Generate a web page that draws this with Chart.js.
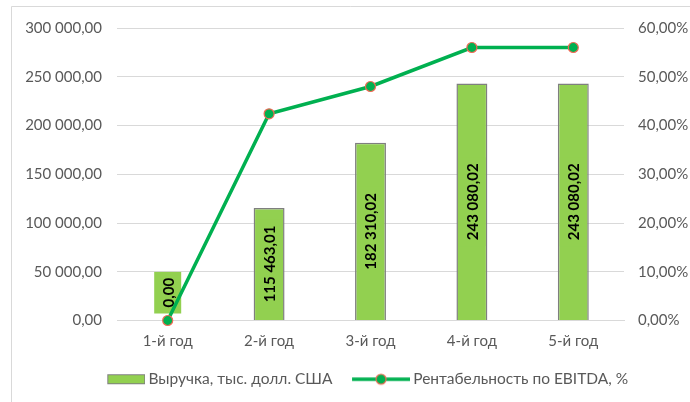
<!DOCTYPE html>
<html>
<head>
<meta charset="utf-8">
<script src="https://cdn.jsdelivr.net/npm/chart.js@4.4.1/dist/chart.umd.min.js"></script>
<style>
  html, body { margin: 0; padding: 0; background: #fff; }
</style>
</head>
<body>
<canvas id="myChart" width="690" height="402"></canvas>
<script>
const years = ['1-й год', '2-й год', '3-й год', '4-й год', '5-й год'];
const revenue = [0, 115463.01, 182310.02, 243080.02, 243080.02];
const margin = [0, 42.4, 48, 56, 56];
const revenueLabel = 'Выручка, тыс. долл. США';
const marginLabel = 'Рентабельность по EBITDA, %';

const FONT = 'Lato';
const GREY = '#595959';
const BAR_GREEN = '#92d050';
const LINE_GREEN = '#00b050';
const DOT_EDGE = '#ee6a55';

// 115463.01 -> "115 463,01"
function fmt(v) {
  const parts = v.toFixed(2).split('.');
  return parts[0].replace(/\B(?=(\d{3})+(?!\d))/g, ' ') + ',' + parts[1];
}
function pct(v) {
  return v.toFixed(2).replace('.', ',') + '%';
}

// legend icons drawn on small canvases
function legendIcon(kind) {
  const c = document.createElement('canvas');
  c.width = 66; c.height = 14;
  const g = c.getContext('2d');
  if (kind === 'bar') {
    g.fillStyle = BAR_GREEN;
    g.fillRect(28.5, 2.5, 37, 9);
    g.strokeStyle = '#7f7f7f';
    g.lineWidth = 1;
    g.strokeRect(28.5, 2.5, 37, 9);
  } else {
    g.strokeStyle = LINE_GREEN;
    g.lineWidth = 3.5;
    g.beginPath(); g.moveTo(8, 7); g.lineTo(66, 7); g.stroke();
    g.beginPath(); g.arc(37, 7, 5, 0, Math.PI * 2);
    g.fillStyle = LINE_GREEN; g.fill();
    g.strokeStyle = DOT_EDGE; g.lineWidth = 1.2; g.stroke();
  }
  return c;
}

const frame = {
  id: 'frame',
  beforeDraw(chart) {
    const ctx = chart.ctx;
    ctx.save();
    ctx.fillStyle = '#fff';
    ctx.fillRect(0, 0, chart.width, chart.height);
    ctx.strokeStyle = '#d9d9d9';
    ctx.lineWidth = 1;
    ctx.beginPath();
    ctx.moveTo(11.5, chart.height);
    ctx.lineTo(11.5, 6.5);
    ctx.lineTo(chart.width, 6.5);
    ctx.stroke();
    ctx.restore();
  }
};

// legend sits a little right of centre
const legendShift = {
  id: 'legendShift',
  afterLayout(chart) {
    chart.legend.left += 22;
  }
};

// vertical value labels on the revenue bars
const barLabels = {
  id: 'barLabels',
  afterDatasetDraw(chart, args) {
    if (args.index !== 0) return;
    const ctx = chart.ctx;
    ctx.save();
    ctx.font = 'bold 15px ' + FONT;
    ctx.textAlign = 'center';
    ctx.textBaseline = 'middle';
    args.meta.data.forEach((bar, i) => {
      const text = fmt(revenue[i]);
      const boxH = ctx.measureText(text).width + 12;
      const boxW = 27;
      let cy = (bar.y + bar.base) / 2;
      cy = Math.min(cy, bar.base - 7 - boxH / 2);
      ctx.fillStyle = BAR_GREEN;
      ctx.fillRect(bar.x - boxW / 2, cy - boxH / 2, boxW, boxH);
      ctx.save();
      ctx.translate(bar.x + 1, cy);
      ctx.rotate(-Math.PI / 2);
      ctx.fillStyle = '#000';
      ctx.fillText(text, 0, 0);
      ctx.restore();
    });
    ctx.restore();
  }
};

const ctx = document.getElementById('myChart');

new Chart(ctx, {
  type: 'bar',
  data: {
    labels: years,
    datasets: [{
      label: revenueLabel,
      data: revenue,
      backgroundColor: BAR_GREEN,
      borderColor: '#7f7f7f',
      borderWidth: 1.5,
      barPercentage: 0.305,
      categoryPercentage: 1,
      yAxisID: 'y',
      order: 1
    },
    {
      type: 'line',
      label: marginLabel,
      data: margin,
      borderColor: LINE_GREEN,
      borderWidth: 3.5,
      pointRadius: 5,
      pointBackgroundColor: LINE_GREEN,
      pointBorderColor: DOT_EDGE,
      pointBorderWidth: 1.2,
      tension: 0,
      clip: false,
      yAxisID: 'y1',
      order: 0
    }]
  },
  options: {
    responsive: false,
    animation: false,
    layout: { padding: { top: 28, left: 0, right: 0, bottom: 5 } },
    plugins: {
      tooltip: { enabled: false },
      legend: {
        position: 'bottom',
        labels: {
          usePointStyle: true,
          pointStyleWidth: 57,
          boxHeight: 12,
          padding: 16,
          color: GREY,
          font: { family: FONT, size: 15.5 },
          generateLabels(chart) {
            return chart.data.datasets.map((ds, i) => ({
              text: ds.label,
              pointStyle: legendIcon(i === 0 ? 'bar' : 'line'),
              fontColor: GREY,
              lineWidth: 0,
              datasetIndex: i
            }));
          }
        }
      }
    },
    scales: {
      x: {
        grid: { display: false },
        border: { color: '#d9d9d9' },
        ticks: { color: GREY, font: { family: FONT, size: 15 }, padding: 4 },
        afterFit(scale) { scale.height = 35; }
      },
      y: {
        min: 0,
        max: 300000,
        ticks: { stepSize: 50000, color: GREY, font: { family: FONT, size: 15 }, padding: 15, callback: v => fmt(v) },
        grid: { color: '#d9d9d9', drawTicks: false },
        border: { display: false },
        afterFit(scale) { scale.width = 117; }
      },
      y1: {
        position: 'right',
        min: 0,
        max: 60,
        ticks: { stepSize: 10, color: GREY, font: { family: FONT, size: 15 }, padding: 14, callback: v => pct(v) },
        grid: { drawOnChartArea: false, drawTicks: false },
        border: { display: false },
        afterFit(scale) { scale.width = 66; }
      }
    }
  },
  plugins: [frame, legendShift, barLabels]
});
</script>
</body>
</html>
